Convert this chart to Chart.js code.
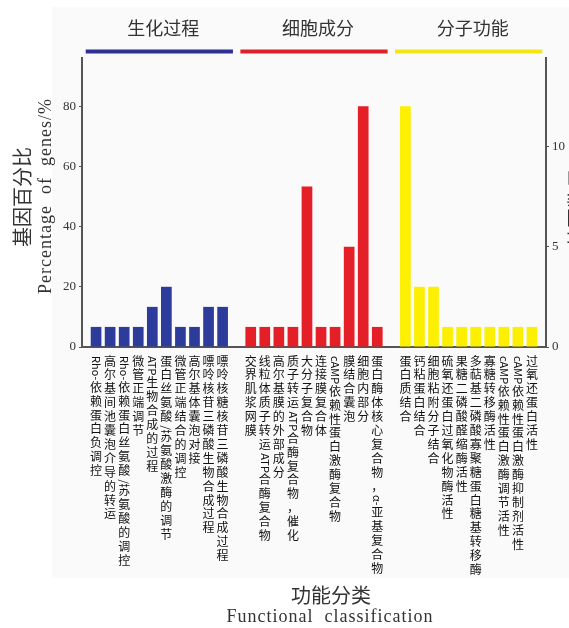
<!DOCTYPE html>
<html>
<head>
<meta charset="utf-8">
<script src="https://cdn.jsdelivr.net/npm/chart.js@4.4.0/dist/chart.umd.min.js"></script>
<style>
    html, body { margin: 0; padding: 0; background: #fff; overflow: hidden; }
    canvas { display: block; }
</style>
</head>
<body>
<canvas id="barChart" width="569" height="628"></canvas>
<script>
// 生化过程 - percentage of genes (left axis)
var bpLabels = [
    'Rho-依赖蛋白负调控',
    '高尔基间池囊泡介导的转运',
    'Rho-依赖蛋白丝氨酸/苏氨酸的调控',
    '微管正端调节',
    'ATP生物合成的过程',
    '蛋白丝氨酸/苏氨酸激酶的调节',
    '微管正端结合的调控',
    '高尔基体囊泡对接',
    '嘌呤核苷三磷酸生物合成过程',
    '嘌呤核糖核苷三磷酸生物合成过程'
];
var bpValues = [6.67, 6.67, 6.67, 6.67, 13.33, 20, 6.67, 6.67, 13.33, 13.33];

// 细胞成分 - percentage of genes (left axis)
var ccLabels = [
    '交界肌浆网膜',
    '线粒体质子转运ATP合酶复合物',
    '高尔基膜的外部成分',
    '质子转运ATP合酶复合物，催化',
    '大分子复合物',
    '连接膜复合体',
    'cAMP依赖性蛋白激酶复合物',
    '膜结合囊泡',
    '细胞内部分',
    '蛋白酶体核心复合物，α-亚基复合物'
];
var ccValues = [6.67, 6.67, 6.67, 6.67, 53.33, 6.67, 6.67, 33.33, 80, 6.67];

// 分子功能 - number of genes (right axis)
var mfLabels = [
    '蛋白质结合',
    '钙粘蛋白结合',
    '细胞粘附分子结合',
    '硫氧还蛋白过氧化物酶活性',
    '果糖二磷酸醛缩酶活性',
    '多萜基二磷酸寡聚糖蛋白糖基转移酶',
    '寡糖转移酶活性',
    'cAMP依赖性蛋白激酶调节活性',
    'cAMP依赖性蛋白激酶抑制剂活性',
    '过氧还蛋白活性'
];
var mfCounts = [12, 3, 3, 1, 1, 1, 1, 1, 1, 1];

var groupNames = ['生化过程', '细胞成分', '分子功能'];
var leftTicks = [0, 20, 40, 60, 80];
var rightTicks = [0, 5, 10];

// one empty slot at both ends and between the groups
var labels = [''].concat(bpLabels, [''], ccLabels, [''], mfLabels, ['']);
var bpStart = 1;
var ccStart = bpStart + bpLabels.length + 1;
var mfStart = ccStart + ccLabels.length + 1;

function pad(values, start) {
    var out = labels.map(function () { return null; });
    values.forEach(function (v, i) { out[start + i] = v; });
    return out;
}

var groups = [
    { name: groupNames[0], start: bpStart, len: bpLabels.length, color: '#2e3192' },
    { name: groupNames[1], start: ccStart, len: ccLabels.length, color: '#dc2229' },
    { name: groupNames[2], start: mfStart, len: mfLabels.length, color: '#f2e614' }
];

var CJK = '"Noto Sans CJK SC", "Noto Sans", sans-serif';
var SERIF = '"Liberation Serif", "DejaVu Serif", serif';

// vertical text: CJK upright, latin runs turned 90deg
function drawVertical(ctx, text, cx, top) {
    var y = top;
    var runs = text.match(/[A-Za-z0-9\-\/α]+|./g);
    runs.forEach(function (r) {
        if (/^[A-Za-z0-9\-\/α]+$/.test(r)) {
            ctx.font = '11px ' + CJK;
            var w = ctx.measureText(r).width;
            ctx.save();
            ctx.translate(cx, y + 1);
            ctx.rotate(Math.PI / 2);
            ctx.textAlign = 'left';
            ctx.textBaseline = 'middle';
            ctx.fillText(r, 0, 0);
            ctx.restore();
            y += w + 2;
        } else {
            ctx.font = '12px ' + CJK;
            ctx.textAlign = 'center';
            ctx.textBaseline = 'top';
            ctx.fillText(r, cx, y);
            y += 13.9;
        }
    });
}

var decor = {
    id: 'decor',
    beforeDraw: function (chart) {
        var ctx = chart.ctx;
        ctx.save();
        ctx.fillStyle = '#ffffff';
        ctx.fillRect(0, 0, chart.width, chart.height);
        ctx.fillStyle = '#fafafa';
        ctx.fillRect(52, 7, chart.width - 52, 571);
        ctx.restore();
    },
    afterDraw: function (chart) {
        var ctx = chart.ctx;
        var xs = chart.scales.x;
        var area = chart.chartArea;
        var pitch = xs.getPixelForValue(1) - xs.getPixelForValue(0);
        var half = pitch * 0.76 / 2 + 5;
        ctx.save();

        // group headers and coloured lines
        groups.forEach(function (g) {
            var x0 = xs.getPixelForValue(g.start) - half;
            var x1 = xs.getPixelForValue(g.start + g.len - 1) + half;
            ctx.strokeStyle = g.color;
            ctx.lineWidth = 4;
            ctx.beginPath();
            ctx.moveTo(x0, 51.5);
            ctx.lineTo(x1, 51.5);
            ctx.stroke();
            ctx.fillStyle = '#333';
            ctx.font = '18px ' + CJK;
            ctx.textAlign = 'center';
            ctx.textBaseline = 'middle';
            ctx.fillText(g.name, (x0 + x1) / 2 + 4, 28);
        });

        // category labels
        ctx.fillStyle = '#111';
        labels.forEach(function (lab, i) {
            if (!lab) return;
            drawVertical(ctx, lab, xs.getPixelForValue(i), area.bottom + 8);
        });

        // left axis titles
        ctx.fillStyle = '#333';
        ctx.textAlign = 'center';
        ctx.textBaseline = 'middle';
        ctx.save();
        ctx.translate(22, 197);
        ctx.rotate(-Math.PI / 2);
        ctx.font = '20px ' + CJK;
        ctx.fillText('基因百分比', 0, 0);
        ctx.restore();

        ctx.save();
        ctx.translate(46, 196);
        ctx.rotate(-Math.PI / 2);
        ctx.font = '18px ' + SERIF;
        ctx.letterSpacing = '1px';
        ctx.fillText('Percentage  of  genes/%', 0, 0);
        ctx.restore();

        // right axis title (runs off the edge)
        ctx.save();
        ctx.translate(577, 208);
        ctx.rotate(-Math.PI / 2);
        ctx.font = '20px ' + CJK;
        ctx.fillText('基因数目', 0, 0);
        ctx.restore();

        // bottom titles
        ctx.font = '20px ' + CJK;
        ctx.fillText('功能分类', 331, 595);
        ctx.font = '18px ' + SERIF;
        ctx.letterSpacing = '1px';
        ctx.fillText('Functional  classification', 330, 617);
        ctx.restore();
    }
};

var ctx = document.getElementById('barChart').getContext('2d');
var barChart = new Chart(ctx, {
    type: 'bar',
    data: {
        labels: labels,
        datasets: [{
            label: groupNames[0],
            data: pad(bpValues, bpStart),
            backgroundColor: '#2d3c9b',
            yAxisID: 'y'
        }, {
            label: groupNames[1],
            data: pad(ccValues, ccStart),
            backgroundColor: '#e51f27',
            yAxisID: 'y'
        }, {
            label: groupNames[2],
            data: pad(mfCounts, mfStart),
            backgroundColor: '#fcef00',
            yAxisID: 'y2'
        }]
    },
    options: {
        responsive: false,
        animation: false,
        datasets: {
            bar: {
                grouped: false,
                barPercentage: 0.76,
                categoryPercentage: 1
            }
        },
        layout: {
            padding: { left: 52, right: 0, top: 58, bottom: 0 }
        },
        plugins: {
            legend: { display: false },
            tooltip: { enabled: false }
        },
        scales: {
            x: {
                type: 'category',
                offset: false,
                grid: { display: false },
                border: { display: true, color: '#555', width: 2 },
                ticks: { display: false },
                afterFit: function (s) { s.height = 281; }
            },
            y: {
                position: 'left',
                min: 0,
                max: 96,
                afterBuildTicks: function (s) {
                    s.ticks = leftTicks.map(function (v) { return { value: v }; });
                },
                ticks: {
                    padding: 3,
                    color: '#333',
                    font: { family: SERIF, size: 13 }
                },
                grid: { drawOnChartArea: false, tickLength: 3, color: '#555' },
                border: { color: '#555', width: 2 },
                afterFit: function (s) { s.width = 30; }
            },
            y2: {
                position: 'right',
                min: 0,
                max: 14.4,
                afterBuildTicks: function (s) {
                    s.ticks = rightTicks.map(function (v) { return { value: v }; });
                },
                ticks: {
                    padding: 3,
                    color: '#333',
                    font: { family: SERIF, size: 13 }
                },
                grid: { drawOnChartArea: false, tickLength: 3, color: '#555' },
                border: { color: '#555', width: 2 },
                afterFit: function (s) { s.width = 23; }
            }
        }
    },
    plugins: [decor]
});
</script>
</body>
</html>
